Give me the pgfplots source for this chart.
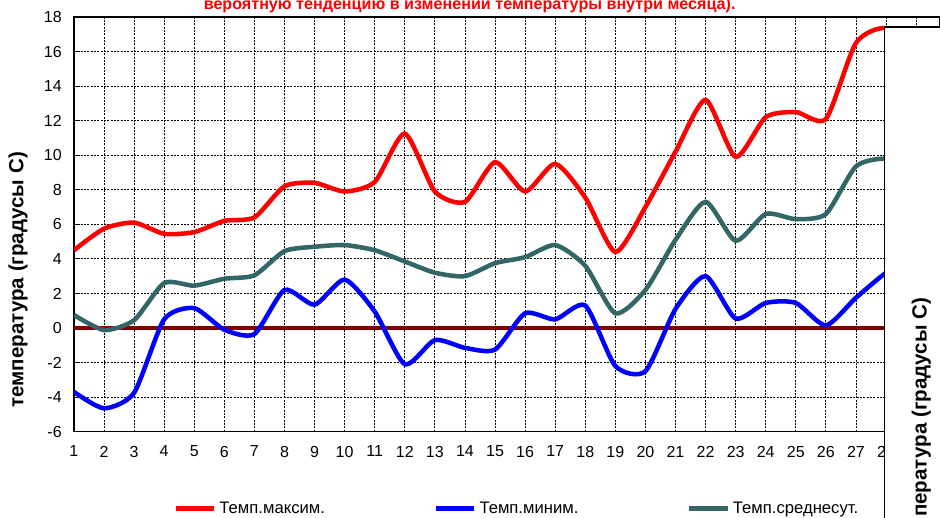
\documentclass[border=0pt]{standalone}
\usepackage{fontspec}
\setmainfont{Liberation Sans}
\usepackage{pgfplots}
\pgfplotsset{compat=1.18}
\definecolor{avgc}{RGB}{51,102,102}
\definecolor{zeroc}{RGB}{128,0,0}
\begin{document}
\begin{tikzpicture}
\path (0,0) rectangle (705pt,388.5pt);
\begin{axis}[
 at={(55.5pt,64.5pt)}, anchor=south west, scale only axis,
 width=649.5pt, height=311.25pt,
 xmin=1, xmax=29.77, ymin=-6, ymax=18,
 xtick={1,...,29}, ytick={-6,-4,...,18},
 xticklabels={1,2,3,4,5,6,7,8,9,10,11,12,13,14,15,16,17,18,19,20,21,22,23,24,25,26,27,28,{}},
 grid=major,
 grid style={black, line width=0.6pt, dash pattern=on 1.5pt off 1pt},
 axis line style={black, line width=1.1pt},
 tick align=inside, ytick pos=left,
 x tick style={draw=none}, y tick style={black, line width=0.8pt},
 major tick length=4.5pt,
 tick label style={font=\fontsize{12}{14}\selectfont},
 xticklabel style={anchor=north, inner sep=0pt, yshift=-10.5pt},
 yticklabel style={anchor=east, inner sep=0pt, xshift=-9pt},
 /pgf/number format/assume math mode=true,
 legend columns=3,
 legend style={at={(0.114,-0.185)}, anchor=west, draw=none, fill=none,
   font=\fontsize{12.5}{15}\selectfont, inner sep=0pt,
   /tikz/every even column/.append style={column sep=79pt}},
 legend image code/.code={\draw[#1, line width=4pt] (0pt,0pt) -- (29pt,0pt);},
 every axis plot/.append style={line width=3.4pt, smooth, tension=0.4, no markers},
]
\addplot[zeroc, line width=3pt, sharp plot, mark=|, mark size=2.6pt, mark options={line width=1.5pt, zeroc}, forget plot] coordinates {
(1,0) (2,0) (3,0) (4,0) (5,0) (6,0) (7,0) (8,0) (9,0) (10,0) (11,0) (12,0) (13,0) (14,0) (15,0) (16,0)
(17,0) (18,0) (19,0) (20,0) (21,0) (22,0) (23,0) (24,0) (25,0) (26,0) (27,0) (28,0) (29,0) (30,0)};
\addplot[red] coordinates {
(1,4.5) (2,5.75) (3,6.1) (4,5.45) (5,5.55) (6,6.2) (7,6.4) (8,8.2) (9,8.4) (10,7.9)
(11,8.45) (12,11.25) (13,7.9) (14,7.3) (15,9.6) (16,7.9) (17,9.5) (18,7.55) (19,4.4) (20,7.0)
(21,10.2) (22,13.2) (23,9.9) (24,12.2) (25,12.5) (26,12.1) (27,16.5) (28,17.35) (29,15.8)};
\addlegendentry{Темп.максим.}
\addplot[blue] coordinates {
(1,-3.7) (2,-4.65) (3,-3.75) (4,0.5) (5,1.15) (6,-0.1) (7,-0.35) (8,2.2) (9,1.35) (10,2.8)
(11,0.95) (12,-2.1) (13,-0.7) (14,-1.15) (15,-1.25) (16,0.85) (17,0.5) (18,1.3) (19,-2.2) (20,-2.5)
(21,1.1) (22,3.0) (23,0.55) (24,1.45) (25,1.45) (26,0.15) (27,1.75) (28,3.2) (29,4.2)};
\addlegendentry{Темп.миним.}
\addplot[avgc] coordinates {
(1,0.75) (2,-0.12) (3,0.45) (4,2.6) (5,2.45) (6,2.85) (7,3.05) (8,4.45) (9,4.7) (10,4.8)
(11,4.5) (12,3.85) (13,3.2) (14,3.0) (15,3.75) (16,4.1) (17,4.8) (18,3.6) (19,0.85) (20,2.2)
(21,5.1) (22,7.3) (23,5.05) (24,6.6) (25,6.3) (26,6.6) (27,9.35) (28,9.8) (29,9.2)};
\addlegendentry{Темп.среднесут.}
\end{axis}
\fill[white, overlay] (663.75pt,-10pt) rectangle (720pt,368.25pt);
\draw[line width=0.8pt, overlay] (663.75pt,-10pt) -- (663.75pt,368.25pt) -- (720pt,368.25pt);
\node[overlay, rotate=90, anchor=east, inner sep=0pt, font=\bfseries\fontsize{15.4}{18}\selectfont] at (691.5pt,165pt) {температура (градусы С)};
\node[rotate=90, inner sep=0pt, font=\bfseries\fontsize{15.4}{18}\selectfont] at (13.5pt,178.5pt) {температура (градусы С)};
\node[overlay, anchor=base, inner sep=0pt, text=red, font=\bfseries\fontsize{12.1}{15}\selectfont] at (352.5pt,381.6pt) {вероятную тенденцию в изменении температуры внутри месяца).};
\end{tikzpicture}
\end{document}
